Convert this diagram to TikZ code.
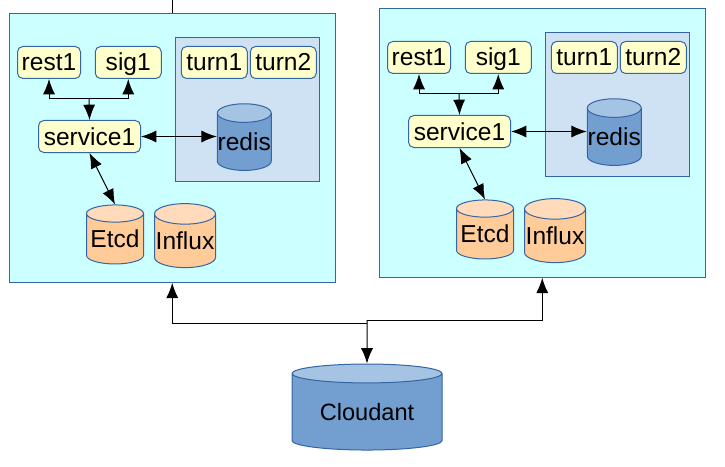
\documentclass[tikz,border=0pt]{standalone}
\usepackage{fontspec}
\setmainfont{Liberation Sans}
\usetikzlibrary{arrows.meta,shapes.geometric}
\definecolor{edge-blue}{HTML}{3465A4}
\definecolor{site-cyan}{HTML}{CCFFFF}
\definecolor{panel-blue}{HTML}{CFE2F3}
\definecolor{svc-yellow}{HTML}{FFFFCC}
\definecolor{db-blue}{HTML}{729FCF}
\definecolor{db-blue-top}{HTML}{A5C3E2}
\definecolor{db-orange}{HTML}{FFCC99}
\definecolor{db-orange-top}{HTML}{FFDBBB}
\tikzset{
    flat-box/.style = {draw=edge-blue, rectangle, line width=0.75pt, inner sep=0pt},
    svc-box/.style = {draw=edge-blue, fill=svc-yellow, rectangle, rounded corners=4pt, line width=0.75pt, inner sep=0pt, minimum height=24pt, text height=12.75pt, text depth=0pt, font=\fontsize{18.4}{20}\selectfont},
    db/.style = {draw=edge-blue, cylinder, shape border rotate=90, cylinder uses custom fill, line width=0.75pt, inner sep=0pt, font=\fontsize{18.4}{20}\selectfont},
    db-b/.style = {db, cylinder body fill=db-blue, cylinder end fill=db-blue-top},
    db-o/.style = {db, cylinder body fill=db-orange, cylinder end fill=db-orange-top},
    link/.style = {black, line width=0.75pt},
    tip-end/.style = {link, -{Latex[length=11.5pt,width=9pt]}},
    tip-both/.style = {link, {Latex[length=11.5pt,width=9pt]}-{Latex[length=11.5pt,width=9pt]}},
}

\begin{document}
\begin{tikzpicture}[x=0.75pt,y=-0.75pt]
\useasboundingbox (0,0) rectangle (725,467);
% the two sites are the same apart from their position
\foreach \s/\dx/\dy in {a/0/0,b/370/-5} {
\begin{scope}[shift={(\dx,\dy)}]
\node [flat-box, fill=site-cyan, minimum width=244.5pt, minimum height=201.75pt] (\s-site) at (172.25,147.75) {};
\node [flat-box, fill=panel-blue, minimum width=108pt, minimum height=108pt] (\s-panel) at (247.5,109.5) {};
\node [svc-box, minimum width=47.25pt] (\s-rest) at (49,62.5) {rest1};
\node [svc-box, minimum width=49.5pt] (\s-sig) at (128.25,62.5) {sig1};
\node [svc-box, minimum width=49.5pt] (\s-turn1) at (214.25,62.5) {turn1};
\node [svc-box, minimum width=49.5pt] (\s-turn2) at (283.25,62.5) {turn2};
\node [svc-box, minimum width=76.5pt] (\s-service) at (89.5,136.5) {service1};
\node [db-b, minimum width=40.5pt, minimum height=50pt, aspect=0.35] (\s-redis) at (244.25,142) {redis};
\node [db-o, minimum width=42.75pt, minimum height=44.25pt, aspect=0.35] (\s-etcd) at (115,239) {Etcd};
\node [db-o, minimum width=45.75pt, minimum height=48pt, aspect=0.35] (\s-influx) at (185,241) {Influx};
\coordinate (\s-bus) at (89,99);
\draw [tip-end] (\s-bus) -| (\s-rest.south);
\draw [tip-end] (\s-bus) -| (\s-sig.south);
\draw [tip-end] (\s-bus) -- (\s-service.north);
\draw [tip-both] (\s-service.east) -- (\s-service.east -| \s-redis.west);
\draw [tip-both] (\s-service.south) -- (\s-etcd.north);
\end{scope}
}
\node [db-b, minimum width=112.5pt, minimum height=64.5pt, aspect=0.2, font=\fontsize{17.7}{20}\selectfont] (cloudant) at (367,412) {Cloudant};
\coordinate (top-stub) at (172.25,0);
\coordinate (join-a) at (367,323);
\coordinate (join-b) at (367,320);
\draw [link] (top-stub) -- (a-site.north);
\draw [tip-end] (join-a) -| (a-site.south);
\draw [tip-end] (join-b) -| (b-site.south);
\draw [tip-end] (join-b) -- (cloudant.north);
\end{tikzpicture}
\end{document}
